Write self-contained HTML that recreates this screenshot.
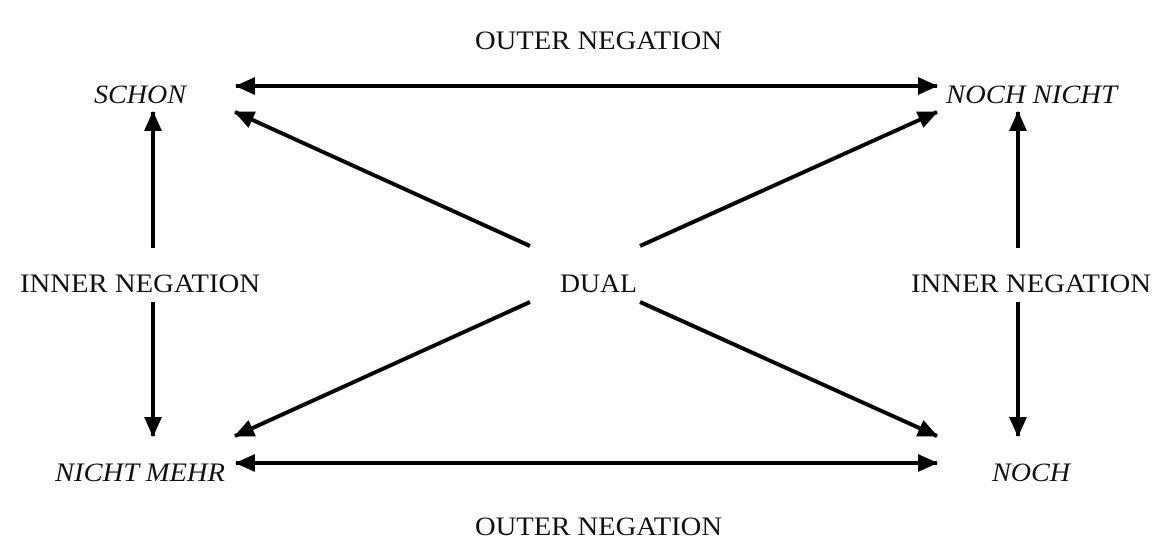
<!DOCTYPE html>
<html><head><meta charset="utf-8"><style>
html,body{margin:0;padding:0;background:#fff;}
svg{display:block;}
text{font-family:"Liberation Serif",serif;font-size:26px;fill:#111;}
.i{font-style:italic;}
</style></head><body>
<svg width="1163" height="559" viewBox="0 0 1163 559" xmlns="http://www.w3.org/2000/svg">
<defs>
<marker id="a" viewBox="0 0 20 18" refX="19" refY="9" markerWidth="20" markerHeight="18" orient="auto-start-reverse" markerUnits="userSpaceOnUse">
<path d="M0,0 L20,9 L0,18 z" fill="#000"/>
</marker>
</defs>
<g stroke="#000" stroke-width="4" fill="none">
<line x1="236" y1="86" x2="937" y2="86" marker-start="url(#a)" marker-end="url(#a)"/>
<line x1="236" y1="463" x2="937" y2="463" marker-start="url(#a)" marker-end="url(#a)"/>
<line x1="153" y1="248" x2="153" y2="112" marker-end="url(#a)"/>
<line x1="153" y1="302" x2="153" y2="436" marker-end="url(#a)"/>
<line x1="1018" y1="248" x2="1018" y2="112" marker-end="url(#a)"/>
<line x1="1018" y1="302" x2="1018" y2="436" marker-end="url(#a)"/>
<line x1="530" y1="246" x2="235" y2="112" marker-end="url(#a)"/>
<line x1="640" y1="246" x2="937" y2="112" marker-end="url(#a)"/>
<line x1="530" y1="302" x2="235" y2="436" marker-end="url(#a)"/>
<line x1="640" y1="302" x2="937" y2="436" marker-end="url(#a)"/>
</g>
<text x="475" y="49" textLength="247" lengthAdjust="spacingAndGlyphs">OUTER NEGATION</text>
<text x="475" y="535" textLength="247" lengthAdjust="spacingAndGlyphs">OUTER NEGATION</text>
<text class="i" x="94" y="103" textLength="92" lengthAdjust="spacingAndGlyphs">SCHON</text>
<text class="i" x="946" y="103" textLength="171" lengthAdjust="spacingAndGlyphs">NOCH NICHT</text>
<text x="20" y="292" textLength="240" lengthAdjust="spacingAndGlyphs">INNER NEGATION</text>
<text x="911" y="292" textLength="240" lengthAdjust="spacingAndGlyphs">INNER NEGATION</text>
<text x="560" y="292" textLength="77" lengthAdjust="spacingAndGlyphs">DUAL</text>
<text class="i" x="55" y="481" textLength="170" lengthAdjust="spacingAndGlyphs">NICHT MEHR</text>
<text class="i" x="992" y="481" textLength="78" lengthAdjust="spacingAndGlyphs">NOCH</text>
</svg>
</body></html>
